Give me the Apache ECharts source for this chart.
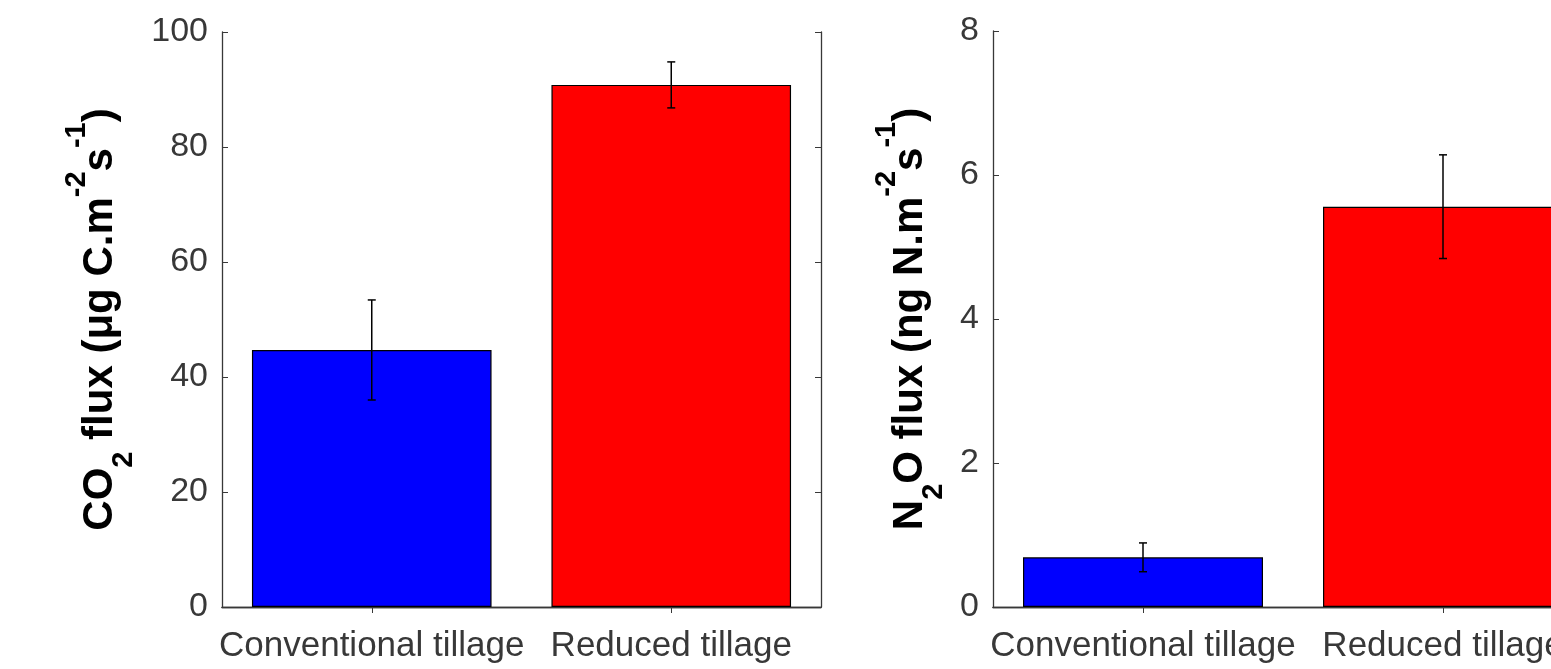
<!DOCTYPE html>
<html>
<head>
<meta charset="utf-8">
<script src="https://cdn.jsdelivr.net/npm/echarts@6/dist/echarts.min.js"></script>
<style>
html, body { margin: 0; padding: 0; background: #fff; }
#chart { width: 1551px; height: 669px; }
</style>
</head>
<body>
<div id="chart"></div>
<script>
var categories = ['Conventional tillage', 'Reduced tillage']
var barColors = ['#0000ff', '#ff0000']
var co2Mean = [44.7, 90.8]
var co2Err = [8.7, 4.0]
var n2oMean = [0.69, 5.56]
var n2oErr = [0.2, 0.72]
var co2Axis = { min: 0, max: 100, interval: 20 }
var n2oAxis = { min: 0, max: 8, interval: 2 }

var axisColor = '#383838'
var font = 'Liberation Sans, Arial, sans-serif'

// axis titles with sub/superscripts
var nameRich = {
  b: { fontSize: 42, fontWeight: 'bold', fontFamily: font, color: '#000', lineHeight: 76, verticalAlign: 'middle' },
  s: { fontSize: 29, fontWeight: 'bold', fontFamily: font, color: '#000', lineHeight: 30, verticalAlign: 'bottom' },
  p: { fontSize: 29, fontWeight: 'bold', fontFamily: font, color: '#000', lineHeight: 36, verticalAlign: 'top' }
}

function barData(vals) {
  return vals.map(function (v, i) {
    return { value: v, itemStyle: { color: barColors[i] } }
  })
}

function errData(vals, errs) {
  return vals.map(function (v, i) {
    return [i, v - errs[i], v + errs[i]]
  })
}

function renderErr(params, api) {
  var lo = api.coord([api.value(0), api.value(1)])
  var hi = api.coord([api.value(0), api.value(2)])
  var w = 4
  var style = { stroke: '#000', lineWidth: 1.5 }
  return {
    type: 'group',
    children: [
      { type: 'line', shape: { x1: hi[0], y1: hi[1], x2: lo[0], y2: lo[1] }, style: style },
      { type: 'line', shape: { x1: hi[0] - w, y1: hi[1], x2: hi[0] + w, y2: hi[1] }, style: style },
      { type: 'line', shape: { x1: lo[0] - w, y1: lo[1], x2: lo[0] + w, y2: lo[1] }, style: style }
    ]
  }
}

function xAxes(gridIndex) {
  var line = { show: true, lineStyle: { color: axisColor, width: 1.3 } }
  var tick = { show: true, inside: true, length: 6, alignWithLabel: true, lineStyle: { color: axisColor } }
  return [{
    type: 'category', gridIndex: gridIndex, position: 'bottom', data: categories,
    axisLine: line, axisTick: tick,
    axisLabel: { color: axisColor, fontSize: 35, fontFamily: font, margin: 22, interval: 0 }
  }, {
    type: 'category', gridIndex: gridIndex, position: 'top', data: categories,
    axisLine: line, axisTick: tick, axisLabel: { show: false }
  }]
}

function yAxes(gridIndex, rng, name, gap) {
  var line = { show: true, lineStyle: { color: axisColor, width: 1.3 } }
  var tick = { show: true, inside: true, length: 6, lineStyle: { color: axisColor } }
  return [{
    type: 'value', gridIndex: gridIndex, position: 'left',
    min: rng.min, max: rng.max, interval: rng.interval,
    axisLine: line, axisTick: tick, splitLine: { show: false },
    axisLabel: { color: axisColor, fontSize: 34, fontFamily: font, margin: 14, padding: [5, 0, 0, 0] },
    name: name, nameLocation: 'middle', nameGap: gap, nameRotate: 90,
    nameMoveOverlap: false,
    nameTextStyle: { rich: nameRich }
  }, {
    type: 'value', gridIndex: gridIndex, position: 'right',
    min: rng.min, max: rng.max, interval: rng.interval,
    axisLine: line, axisTick: tick, splitLine: { show: false },
    axisLabel: { show: false }
  }]
}

var chart = echarts.init(document.getElementById('chart'))
chart.setOption({
  animation: false,
  backgroundColor: '#fff',
  grid: [
    { left: 222, top: 32, width: 599, height: 575, outerBoundsMode: 'none', containLabel: false },
    { left: 993, top: 31, width: 600, height: 576, outerBoundsMode: 'none', containLabel: false }
  ],
  xAxis: xAxes(0).concat(xAxes(1)),
  yAxis: yAxes(0, co2Axis, '{b|CO}{s|2}{b| flux (μg C.m}{p|-2}{b|s}{p|-1}{b|)}', 84)
    .concat(yAxes(1, n2oAxis, '{b|N}{s|2}{b|O flux (ng N.m}{p|-2}{b|s}{p|-1}{b|)}', 45)),
  series: [{
    type: 'bar', xAxisIndex: 0, yAxisIndex: 0, barWidth: '80%',
    data: barData(co2Mean),
    itemStyle: { borderColor: '#000', borderWidth: 1.2 }
  }, {
    type: 'custom', xAxisIndex: 0, yAxisIndex: 0, z: 5,
    renderItem: renderErr, data: errData(co2Mean, co2Err)
  }, {
    type: 'bar', xAxisIndex: 2, yAxisIndex: 2, barWidth: '80%',
    data: barData(n2oMean),
    itemStyle: { borderColor: '#000', borderWidth: 1.2 }
  }, {
    type: 'custom', xAxisIndex: 2, yAxisIndex: 2, z: 5,
    renderItem: renderErr, data: errData(n2oMean, n2oErr)
  }]
})
</script>
</body>
</html>
